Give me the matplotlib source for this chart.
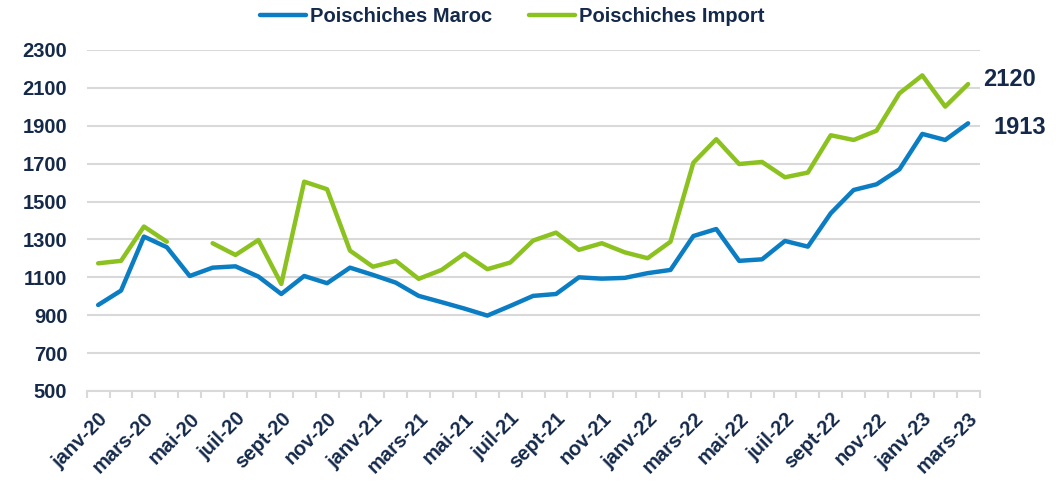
import numpy as np
import matplotlib
matplotlib.use("Agg")
import matplotlib.pyplot as plt

# Données mensuelles (janv-20 à mars-23)
mois = ["janv", "févr", "mars", "avr", "mai", "juin",
        "juil", "août", "sept", "oct", "nov", "déc"]
periodes = [f"{mois[i % 12]}-{20 + i // 12}" for i in range(39)]

maroc = [954, 1030, 1315, 1259, 1107, 1151, 1158, 1104, 1012, 1107,
         1069, 1151, 1113, 1072, 1002, 969, 935, 898, 949, 1002,
         1012, 1100, 1093, 1097, 1122, 1139, 1318, 1355, 1187, 1195,
         1292, 1262, 1438, 1561, 1591, 1670, 1857, 1825, 1913]

importe = [1174, 1187, 1368, 1288, np.nan, 1280, 1218, 1297, 1065, 1605,
           1565, 1241, 1156, 1187, 1092, 1139, 1225, 1143, 1178, 1294,
           1336, 1245, 1280, 1232, 1201, 1288, 1705, 1829, 1698, 1709,
           1628, 1653, 1850, 1825, 1874, 2071, 2166, 2001, 2120]

y_ticks = list(range(500, 2301, 200))

BLEU = "#0b7dc3"
VERT = "#8cc21f"
TEXTE = "#15294a"
GRIS = "#d9d9d9"

plt.rcParams["font.family"] = ["Liberation Sans", "DejaVu Sans"]
plt.rcParams["font.weight"] = "bold"

fig = plt.figure(figsize=(10.56, 4.82), dpi=100)
ax = fig.add_axes([0.0821, 0.1888, 0.8455, 0.7075])

x = np.arange(len(periodes))
ax.plot(x, maroc, color=BLEU, lw=3.2, label="Poischiches Maroc",
        solid_capstyle="round", solid_joinstyle="round")
ax.plot(x, importe, color=VERT, lw=3.2, label="Poischiches Import",
        solid_capstyle="round", solid_joinstyle="round")

ax.set_xlim(-0.5, len(periodes) - 0.5)
ax.set_ylim(500, 2300)
ax.set_yticks(y_ticks)
ax.yaxis.grid(True, color=GRIS, lw=1.5)
ax.set_axisbelow(True)
for s in ["top", "right", "left"]:
    ax.spines[s].set_visible(False)
ax.spines["bottom"].set_color(GRIS)
ax.spines["bottom"].set_linewidth(1.5)

ax.tick_params(axis="y", length=0, pad=14, labelsize=14.5, labelcolor=TEXTE)
ax.set_xticks(x[::2])
ax.set_xticklabels(periodes[::2], rotation=45, ha="right",
                   rotation_mode="anchor", fontsize=14.5, color=TEXTE)
ax.tick_params(axis="x", which="major", length=0, pad=13)
ax.set_xticks(np.arange(-0.5, len(periodes), 1), minor=True)
ax.tick_params(axis="x", which="minor", length=5, width=1.5, color=GRIS)

# Dernières valeurs
ax.annotate(f"{importe[-1]:.0f}", xy=(x[-1], importe[-1]), xytext=(11, 3),
            textcoords="offset points", va="center", ha="left",
            fontsize=17, color=TEXTE, annotation_clip=False)
ax.annotate(f"{maroc[-1]:.0f}", xy=(x[-1], maroc[-1]), xytext=(18, -3),
            textcoords="offset points", va="center", ha="left",
            fontsize=17, color=TEXTE, annotation_clip=False)

leg = fig.legend(loc="center", bbox_to_anchor=(0.485, 0.965), ncol=2,
                 frameon=False, fontsize=14.5, handlelength=2.3,
                 handletextpad=0.2, columnspacing=1.8, borderpad=0)
for t in leg.get_texts():
    t.set_color(TEXTE)

fig.savefig("out.png", dpi=100)
